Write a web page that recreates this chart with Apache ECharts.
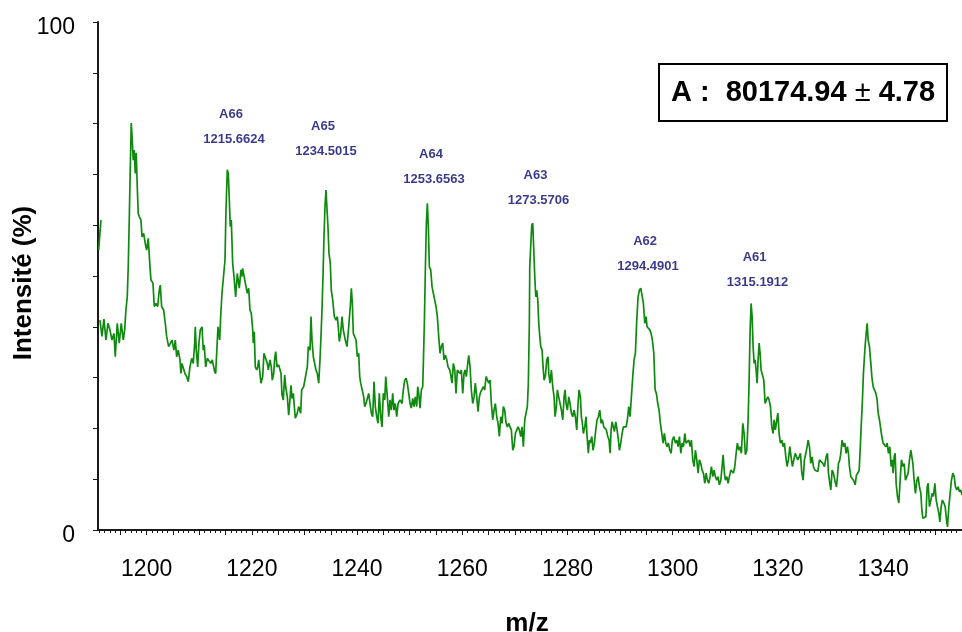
<!DOCTYPE html>
<html>
<head>
<meta charset="utf-8">
<script src="https://cdn.jsdelivr.net/npm/echarts@6/dist/echarts.min.js"></script>
<style>
html,body{margin:0;padding:0;background:#fff;}
#chart{width:962px;height:632px;}
</style>
</head>
<body>
<div id="chart"></div>
<script>
// ---- data ----
const xLabelValues = [1200, 1220, 1240, 1260, 1280, 1300, 1320, 1340];
const yLabelValues = [0, 100];
const peakNames = ['A66', 'A65', 'A64', 'A63', 'A62', 'A61'];
const peakMasses = ['1215.6624', '1234.5015', '1253.6563', '1273.5706', '1294.4901', '1315.1912'];
const resultMain = 'A :  80174.94 ';
const resultPm = '\u00b1';
const resultErr = ' 4.78';
const xTitle = 'm/z';
const yTitle = 'Intensit\u00e9 (%)';

// fragment at the very left edge (m/z, intensity %)
const edgeSpectrum = [[1190.87, 55.1], [1191.31, 61.0]];

// spectrum (m/z, intensity %)
const spectrum = [
[1191.12,41.3],[1191.50,38.1],[1191.88,41.5],[1192.26,37.4],[1192.64,40.7],[1193.02,39.4],[1193.40,37.4],[1193.78,38.7],[1194.03,34.1],[1194.41,40.7],
[1194.79,36.8],[1195.17,40.7],[1195.55,37.4],[1195.82,39.4],[1196.06,43.3],[1196.31,45.9],[1196.50,51.8],[1196.69,61.0],[1196.88,70.9],[1197.07,80.1],
[1197.26,76.8],[1197.45,72.8],[1197.64,74.8],[1197.83,70.2],[1198.02,74.2],[1198.21,67.6],[1198.40,62.3],[1198.59,61.7],[1198.92,61.0],[1199.11,57.7],
[1199.43,58.4],[1199.73,56.4],[1200.00,55.1],[1200.30,57.4],[1200.63,51.8],[1200.82,49.2],[1201.20,48.6],[1201.45,44.0],[1201.77,44.6],[1202.09,44.0],
[1202.40,47.2],[1202.59,48.2],[1202.85,44.0],[1203.23,43.3],[1203.54,40.7],[1203.80,38.1],[1204.18,36.1],[1204.56,35.8],[1204.81,37.4],[1205.19,35.4],
[1205.44,37.4],[1205.70,34.1],[1206.01,35.4],[1206.33,33.5],[1206.52,30.8],[1206.71,32.8],[1207.09,32.8],[1207.28,30.8],[1207.61,30.2],[1207.91,29.2],
[1208.23,32.1],[1208.56,33.8],[1208.86,32.8],[1209.13,36.8],[1209.24,40.0],[1209.43,35.4],[1209.70,32.1],[1209.94,36.8],[1210.19,39.4],[1210.52,40.0],
[1210.76,35.4],[1210.95,36.4],[1211.22,32.1],[1211.52,33.8],[1211.90,33.8],[1212.17,32.8],[1212.47,33.5],[1212.93,31.2],[1213.12,30.8],[1213.31,34.8],
[1213.56,40.0],[1213.88,37.4],[1214.07,42.0],[1214.32,46.6],[1214.64,46.9],[1214.89,53.1],[1215.08,63.0],[1215.33,70.9],[1215.52,70.2],[1215.71,65.0],
[1215.90,59.7],[1216.09,61.0],[1216.35,52.5],[1216.60,49.9],[1216.92,45.9],[1217.23,50.5],[1217.61,47.6],[1217.93,51.2],[1218.12,49.9],
[1218.25,51.5],[1218.50,51.2],[1218.88,47.9],[1219.13,46.6],[1219.40,47.6],[1219.64,43.3],[1219.89,42.7],[1220.16,39.4],[1220.27,36.8],[1220.46,39.0],
[1220.65,32.1],[1220.92,31.5],[1221.11,32.1],[1221.30,33.5],[1221.54,30.8],[1221.73,28.9],[1222.06,30.2],[1222.30,34.8],[1222.63,34.8],[1222.93,32.8],
[1223.12,31.5],[1223.45,33.5],[1223.69,32.1],[1223.88,29.5],[1224.15,30.8],[1224.34,33.8],[1224.53,35.1],[1224.78,32.1],[1225.10,32.5],[1225.35,32.7],
[1225.54,30.8],[1225.73,26.6],[1225.97,25.6],[1226.24,30.5],[1226.43,28.2],[1226.74,26.2],[1227.00,22.6],[1227.19,24.9],[1227.44,28.5],[1227.63,25.9],
[1227.88,26.9],[1228.07,24.3],[1228.26,22.0],[1228.64,23.0],[1228.90,24.3],[1229.28,23.0],[1229.47,27.6],[1229.85,28.2],[1230.23,28.2],[1230.54,32.1],
[1230.73,36.1],[1231.05,35.4],[1231.24,42.0],[1231.43,37.4],[1231.68,34.1],[1231.95,33.8],[1232.19,31.5],[1232.44,30.8],[1232.71,28.9],[1232.95,33.5],
[1233.14,38.1],[1233.33,43.3],[1233.52,49.9],[1233.71,57.7],[1233.90,63.6],[1234.09,66.9],[1234.28,66.9],[1234.47,59.7],[1234.66,54.5],[1234.91,52.5],
[1235.10,47.2],[1235.37,45.3],[1235.67,42.0],[1236.00,41.3],[1236.24,42.0],[1236.43,40.0],[1236.62,37.1],[1236.89,38.7],[1237.14,42.0],[1237.38,39.4],
[1237.76,37.4],[1238.09,36.1],[1238.41,40.0],[1238.71,44.0],[1238.91,47.6],[1239.10,44.6],[1239.29,38.7],[1239.55,38.4],[1239.80,37.4],[1240.05,34.1],
[1240.31,34.8],[1240.50,30.2],[1240.69,28.9],[1241.00,28.9],[1241.26,26.2],[1241.45,24.3],[1241.70,24.9],[1241.95,24.6],[1242.21,26.9],[1242.46,24.9],
[1242.71,23.0],[1242.97,22.3],[1243.22,29.2],[1243.47,24.3],[1243.73,22.3],[1243.98,21.0],[1244.23,26.9],[1244.50,22.3],[1244.74,20.3],[1244.99,26.9],
[1245.26,25.6],[1245.45,30.2],
[1245.75,26.2],[1246.02,22.3],[1246.26,25.6],[1246.51,23.6],[1246.78,26.9],[1247.02,23.6],[1247.27,24.9],[1247.54,22.3],[1247.79,24.9],[1248.17,25.6],
[1248.55,24.9],[1248.79,27.6],[1249.06,29.5],[1249.31,29.9],[1249.55,28.9],[1249.82,26.9],[1250.07,24.9],[1250.31,24.0],[1250.58,25.9],[1250.83,24.3],
[1251.07,26.2],[1251.34,24.3],[1251.53,28.2],[1251.72,26.9],[1251.97,24.0],[1252.22,27.6],[1252.48,28.2],[1252.60,32.8],[1252.79,40.7],[1252.98,51.2],
[1253.17,60.4],[1253.36,64.3],[1253.55,59.7],[1253.74,51.8],[1254.00,51.2],[1254.25,47.9],[1254.50,46.6],[1254.76,46.6],[1255.01,44.0],[1255.26,42.0],
[1255.52,38.1],[1255.77,34.8],[1256.02,36.1],[1256.28,36.8],[1256.53,33.5],[1256.78,34.4],[1257.05,33.5],[1257.29,32.1],[1257.62,31.5],[1257.81,30.5],
[1258.05,28.9],[1258.30,32.8],[1258.57,31.5],[1258.81,26.9],[1259.06,31.5],[1259.33,31.8],[1259.58,30.8],[1259.82,31.5],[1260.09,26.9],[1260.33,30.8],
[1260.52,31.5],[1260.77,30.2],[1261.04,32.8],[1261.23,34.4],[1261.48,32.1],[1261.72,27.6],[1261.99,24.9],[1262.24,26.2],[1262.48,28.9],[1262.75,26.2],
[1263.00,23.3],[1263.25,26.2],[1263.51,27.2],[1263.76,26.9],[1264.01,28.2],[1264.27,27.6],[1264.52,30.2],[1264.77,30.2],[1265.03,28.9],[1265.28,29.5],
[1265.53,24.9],[1265.79,21.7],[1266.04,23.6],[1266.29,24.9],[1266.55,22.3],[1266.80,21.0],[1267.05,18.4],[1267.31,22.3],[1267.56,21.0],[1267.81,24.3],
[1268.07,23.6],[1268.32,21.0],[1268.57,20.3],[1268.83,21.0],[1269.08,20.3],[1269.33,19.7],[1269.60,15.7],[1269.84,16.4],[1270.09,19.0],[1270.36,19.7],
[1270.60,20.3],[1270.85,19.7],[1271.12,18.4],[1271.36,20.3],[1271.61,16.4],[1271.88,21.7],[1272.12,23.0],[1272.37,24.3],[1272.56,28.9],[1272.75,40.7],
[1272.83,51.8],[1273.02,56.1],[1273.21,60.0],[1273.40,60.4],
[1273.59,55.1],[1273.78,49.9],[1273.97,45.9],[1274.16,47.2],[1274.35,45.3],[1274.54,40.7],[1274.73,38.1],[1274.92,36.1],[1275.17,35.4],[1275.36,32.1],
[1275.55,29.5],[1275.79,30.2],[1276.06,33.5],[1276.31,34.1],[1276.44,30.8],[1276.69,28.9],[1276.94,31.5],[1277.20,28.2],[1277.45,26.2],[1277.64,22.3],
[1277.89,24.3],[1278.08,27.6],[1278.34,26.2],[1278.59,24.9],[1278.84,23.6],[1279.10,21.7],[1279.35,26.2],[1279.54,27.6],[1279.73,24.9],[1279.98,23.6],
[1280.24,26.2],[1280.49,24.9],[1280.74,23.0],[1281.00,22.3],[1281.25,23.6],[1281.50,22.3],[1281.76,19.7],[1282.01,24.9],[1282.20,27.6],[1282.45,26.2],
[1282.64,22.3],[1282.83,21.0],[1283.02,19.0],[1283.29,20.3],[1283.53,22.3],[1283.72,18.4],[1283.97,15.1],[1284.16,17.7],[1284.35,17.1],[1284.62,18.4],
[1284.86,15.7],[1285.11,17.1],[1285.38,19.7],[1285.63,21.7],[1285.87,22.3],[1286.14,23.6],[1286.39,21.0],[1286.63,21.7],[1286.90,20.3],[1287.15,20.3],
[1287.39,19.7],[1287.66,18.4],[1287.91,17.7],[1288.10,15.1],[1288.29,19.7],[1288.48,21.3],[1288.67,21.0],[1288.92,19.4],[1289.18,21.3],[1289.43,19.7],
[1289.68,17.7],[1289.87,15.7],[1290.13,17.1],[1290.38,19.0],[1290.63,20.3],[1290.89,20.0],[1291.14,20.3],[1291.39,21.7],[1291.65,24.3],[1291.90,22.3],
[1292.15,26.2],[1292.41,30.2],[1292.66,33.5],[1292.91,34.8],[1293.17,41.3],[1293.42,45.9],[1293.67,47.2],[1293.93,47.6],[1294.18,47.9],[1294.43,44.6],
[1294.70,40.7],[1294.94,42.0],[1295.13,40.0],[1295.38,40.0],[1295.65,39.4],[1295.89,38.7],[1296.14,37.4],[1296.41,34.8],[1296.66,27.6],[1296.90,26.9],
[1297.17,24.9],[1297.41,23.6],[1297.66,21.0],[1297.93,19.0],[1298.17,17.1],[1298.42,19.0],[1298.69,17.1],[1298.94,16.4],[1299.18,17.1],[1299.45,15.7],
[1299.70,15.1],[1299.94,17.7],[1300.21,18.4],
[1300.52,17.1],[1300.78,17.7],[1301.03,16.4],[1301.28,18.4],[1301.54,15.1],[1301.79,17.1],[1302.04,16.4],[1302.30,19.0],[1302.55,17.1],[1302.80,17.1],
[1303.06,17.7],[1303.31,16.4],[1303.56,17.7],[1303.82,13.8],[1304.07,12.5],[1304.32,15.7],[1304.58,13.8],[1304.83,11.2],[1305.08,13.8],[1305.34,13.1],
[1305.59,11.8],[1305.84,11.2],[1306.11,9.2],[1306.35,11.2],[1306.60,9.8],[1306.87,9.2],[1307.11,10.5],[1307.36,12.5],[1307.63,10.5],[1307.87,11.8],
[1308.12,10.5],[1308.39,9.8],[1308.63,10.5],[1308.88,8.9],[1309.15,9.8],[1309.39,12.5],[1309.59,14.8],[1309.83,11.2],[1310.02,9.8],[1310.29,10.5],
[1310.54,9.2],[1310.78,10.5],[1311.05,11.8],[1311.30,12.1],[1311.54,11.2],[1311.81,12.5],[1312.06,15.1],[1312.30,17.1],[1312.57,15.7],[1312.82,16.4],
[1313.06,15.1],[1313.33,21.0],[1313.58,19.0],[1313.82,14.8],[1314.09,15.7],[1314.34,21.7],[1314.53,29.5],[1314.72,39.4],[1314.91,44.6],[1315.10,42.0],
[1315.29,36.1],[1315.48,32.8],[1315.67,33.5],[1315.86,31.5],[1316.05,28.9],[1316.24,33.5],[1316.43,36.8],[1316.62,34.8],[1316.81,31.5],[1317.06,31.5],
[1317.32,29.5],[1317.57,24.9],[1317.82,25.6],[1318.08,26.2],[1318.33,25.6],[1318.58,24.3],[1318.84,20.3],[1319.09,19.0],[1319.28,21.7],[1319.53,19.7],
[1319.79,21.7],[1319.99,23.0],[1320.23,19.0],[1320.48,17.1],[1320.75,17.7],[1320.99,16.4],[1321.24,17.1],[1321.51,14.4],[1321.75,12.5],[1322.00,13.8],
[1322.27,16.4],[1322.51,14.4],[1322.76,12.5],[1323.03,13.8],[1323.28,15.1],[1323.52,15.1],[1323.79,13.8],[1324.04,14.4],[1324.28,15.1],[1324.55,11.2],
[1324.80,9.8],[1325.04,13.8],[1325.31,15.1],[1325.56,16.4],[1325.75,17.7],[1326.00,16.4],[1326.26,13.1],[1326.51,14.4],[1326.75,12.5],[1327.02,11.8],
[1327.27,12.1],
[1327.59,11.5],[1327.90,13.8],[1328.22,14.1],[1328.54,13.1],[1328.85,12.5],[1329.17,14.4],[1329.42,15.1],[1329.61,11.2],[1329.87,9.2],[1330.06,7.9],
[1330.31,11.8],[1330.56,11.2],[1330.88,9.5],[1331.13,8.5],[1331.32,10.5],[1331.51,13.1],[1331.77,13.8],[1331.96,15.1],[1332.21,17.7],[1332.46,16.4],
[1332.72,17.1],[1332.97,15.1],[1333.22,16.4],[1333.41,15.1],[1333.60,12.5],[1333.87,10.5],[1334.11,10.2],[1334.36,9.8],[1334.69,8.9],[1334.93,10.8],
[1335.20,11.2],[1335.45,11.8],[1335.64,15.7],[1335.83,20.3],[1336.07,25.6],[1336.26,30.8],[1336.53,35.4],[1336.78,38.7],[1336.97,40.7],[1337.16,37.4],
[1337.41,36.1],[1337.67,32.8],[1337.86,30.2],[1338.11,28.2],[1338.36,27.6],[1338.62,26.9],[1338.87,25.6],[1339.06,23.0],[1339.31,21.7],[1339.50,20.3],
[1339.76,18.4],[1340.01,17.1],[1340.26,17.4],[1340.52,16.4],[1340.77,17.1],[1341.02,15.1],[1341.28,16.4],[1341.53,12.5],[1341.72,13.8],[1341.91,11.2],
[1342.10,14.4],[1342.29,15.1],[1342.48,9.2],[1342.73,6.6],[1342.99,5.3],[1343.24,9.8],[1343.49,13.8],[1343.76,12.5],[1344.00,13.1],[1344.25,9.8],
[1344.51,9.8],[1344.76,11.2],[1345.01,13.8],[1345.27,15.7],[1345.47,15.4],[1345.66,13.1],[1345.90,9.8],[1346.15,7.2],[1346.42,9.8],[1346.66,10.5],
[1346.91,8.5],[1347.18,7.2],[1347.37,3.9],[1347.56,2.3],[1347.86,2.0],[1348.13,2.6],[1348.38,8.5],[1348.57,9.2],[1348.81,4.6],[1349.08,5.9],
[1349.33,7.2],[1349.57,6.6],[1349.84,9.2],[1350.09,5.9],[1350.33,4.6],[1350.60,3.3],[1350.79,1.6],[1351.04,4.6],[1351.28,5.9],[1351.55,5.3],
[1351.80,4.6],[1352.05,2.0],[1352.24,0.6],[1352.50,4.6],[1352.75,7.2],[1352.99,9.8],[1353.26,11.2],[1353.51,10.5],[1353.76,8.5],[1354.02,7.9],
[1354.27,8.5],[1354.52,7.5],[1354.78,7.9],[1355.00,6.9]
];

// ---- layout (placement of peak annotations, in axis units) ----
const labelAnchors = [[1216.60,79.4],[1234.09,77.0],[1254.63,71.4],[1274.50,67.3],[1295.32,54.3],[1316.14,51.2]];

const X_MIN = 1190.75, X_MAX = 1355;
const majorTicks = [];
for (let v = 1195; v <= X_MAX; v += 5) majorTicks.push(v);
const minorTicks = [];
for (let v = 1191; v <= X_MAX; v += 1) minorTicks.push(v);

const FONT = "'Liberation Sans', Arial, sans-serif";
const AXIS_COLOR = '#1a1a1a';
const LINE_COLOR = '#0f8a0f';
const ANNOT_COLOR = '#08086e';

const chart = echarts.init(document.getElementById('chart'), null, {renderer: 'canvas'});

const option = {
  animation: false,
  backgroundColor: '#ffffff',
  grid: {left: 98, right: 0, top: 22, bottom: 102, containLabel: false},
  xAxis: [
    {
      type: 'value', min: X_MIN, max: X_MAX,
      axisLine: {show: true, onZero: false, lineStyle: {color: AXIS_COLOR, width: 2}},
      axisTick: {show: true, customValues: majorTicks, length: 5, lineStyle: {color: AXIS_COLOR, width: 1}},
      axisLabel: {show: true, customValues: xLabelValues, margin: 28, fontSize: 23, color: '#000', fontFamily: FONT,
                  formatter: function (v) { return String(v); }},
      splitLine: {show: false}
    },
    {
      type: 'value', min: X_MIN, max: X_MAX, position: 'bottom',
      axisLine: {show: false},
      axisTick: {show: true, customValues: minorTicks, length: 3, lineStyle: {color: AXIS_COLOR, width: 1}},
      axisLabel: {show: false},
      splitLine: {show: false}
    }
  ],
  yAxis: {
    type: 'value', min: 0, max: 100, interval: 10,
    axisLine: {show: true, lineStyle: {color: AXIS_COLOR, width: 2}},
    axisTick: {show: true, length: 5, lineStyle: {color: AXIS_COLOR, width: 1}},
    axisLabel: {show: true, customValues: yLabelValues, margin: 23, fontSize: 23, color: '#000', fontFamily: FONT,
                verticalAlign: 'top', lineHeight: 12, formatter: function (v) { return String(v); }},
    splitLine: {show: false}
  },
  graphic: [
    {
      type: 'group',
      children: [
        {type: 'rect', shape: {x: 659, y: 64, width: 288, height: 57}, style: {fill: '#fff', stroke: '#000', lineWidth: 2}},
        {type: 'text', x: 803, y: 93, style: {
          text: '{m|' + resultMain + '}{p|' + resultPm + '}{m|' + resultErr + '}',
          align: 'center', verticalAlign: 'middle',
          rich: {
            m: {fontFamily: FONT, fontSize: 29, fontWeight: 'bold', fill: '#000'},
            p: {fontFamily: FONT, fontSize: 29, fontWeight: 'normal', fill: '#000'}
          }
        }}
      ]
    },
    {type: 'text', x: 527, y: 611, style: {text: xTitle, font: "bold 26px 'Liberation Sans', Arial, sans-serif", fill: '#000', align: 'center', verticalAlign: 'top'}},
    {type: 'text', x: 24, y: 283, rotation: Math.PI / 2, style: {text: yTitle, font: "bold 26px 'Liberation Sans', Arial, sans-serif", fill: '#000', align: 'center', verticalAlign: 'middle'}}
  ],
  series: [
    {
      type: 'line', xAxisIndex: 0, data: edgeSpectrum, showSymbol: false, symbol: 'none',
      lineStyle: {color: LINE_COLOR, width: 1.7}, clip: true, silent: true
    },
    {
      type: 'line', xAxisIndex: 0, data: spectrum, showSymbol: false, symbol: 'none',
      lineStyle: {color: LINE_COLOR, width: 1.7}, clip: true, silent: true
    },
    {
      type: 'scatter', xAxisIndex: 0, symbolSize: 0, silent: true,
      data: labelAnchors,
      label: {
        show: true, position: 'inside',
        formatter: function (p) { return '{a|' + peakNames[p.dataIndex] + '}\n{b|' + peakMasses[p.dataIndex] + '}'; },
        rich: {
          a: {fontSize: 13, fontWeight: 'bold', color: ANNOT_COLOR, fontFamily: FONT, lineHeight: 25, align: 'center', padding: [0, 6, 0, 0]},
          b: {fontSize: 13, fontWeight: 'bold', color: ANNOT_COLOR, fontFamily: FONT, lineHeight: 25, align: 'center'}
        }
      }
    }
  ]
};
chart.setOption(option);
</script>
</body>
</html>
